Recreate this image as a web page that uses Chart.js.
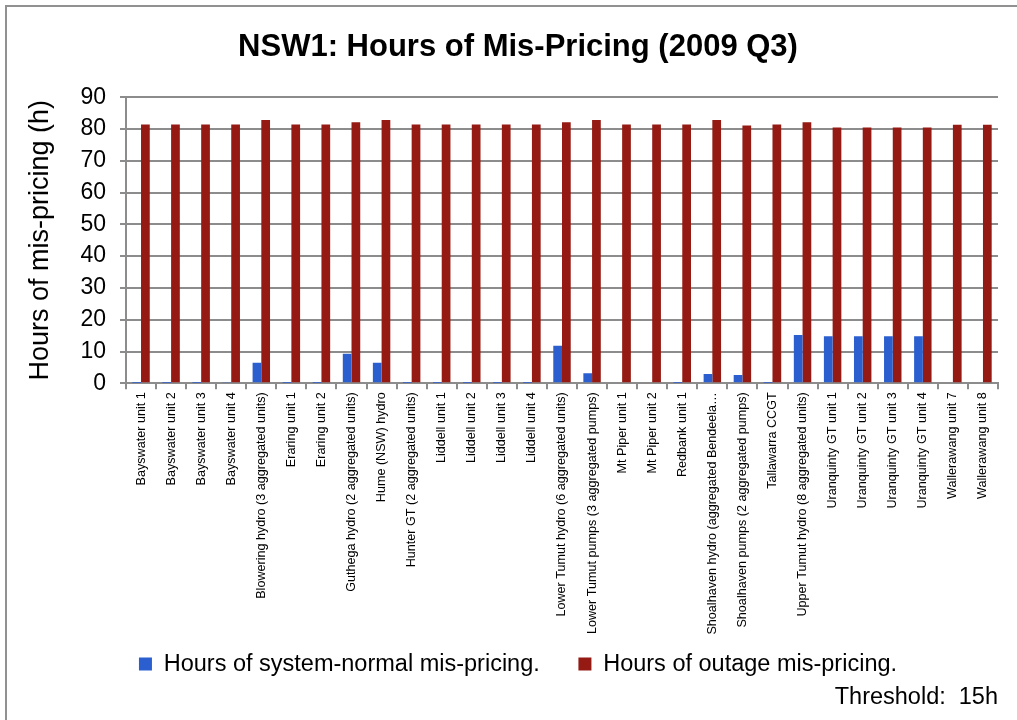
<!DOCTYPE html>
<html>
<head>
<meta charset="utf-8">
<style>
  body { margin: 0; background: #fff; overflow: hidden; }
  #frame { position: absolute; left: 5px; top: 5px; width: 1100px; height: 800px; border: 2px solid #919191; }
  #myChart { position: absolute; left: 0; top: 0; }
</style>
</head>
<body>
<div id="frame"></div>
<canvas id="myChart" width="1017" height="720"></canvas>
<script src="https://cdn.jsdelivr.net/npm/chart.js@4.4.0/dist/chart.umd.min.js"></script>
<script>
  const units = [
    "Bayswater unit 1", "Bayswater unit 2", "Bayswater unit 3", "Bayswater unit 4",
    "Blowering hydro (3 aggregated units)", "Eraring unit 1", "Eraring unit 2",
    "Guthega hydro (2 aggregated units)", "Hume (NSW) hydro", "Hunter GT (2 aggregated units)",
    "Liddell unit 1", "Liddell unit 2", "Liddell unit 3", "Liddell unit 4",
    "Lower Tumut hydro (6 aggregated units)", "Lower Tumut pumps (3 aggregated pumps)",
    "Mt Piper unit 1", "Mt Piper unit 2", "Redbank unit 1",
    "Shoalhaven hydro (aggregated Bendeela…", "Shoalhaven pumps (2 aggregated pumps)",
    "Tallawarra CCGT", "Upper Tumut hydro (8 aggregated units)",
    "Uranquinty GT unit 1", "Uranquinty GT unit 2", "Uranquinty GT unit 3", "Uranquinty GT unit 4",
    "Wallerawang unit 7", "Wallerawang unit 8"
  ];
  // hours of system-normal mis-pricing
  const systemNormal = [0.1, 0.1, 0.1, 0.4, 6.5, 0.1, 0.1, 9.3, 6.5, 0.1,
    0.1, 0.1, 0.1, 0.1, 11.8, 3.2, 0.3, 0.3, 0.1, 2.9,
    2.6, 0.1, 15.2, 14.8, 14.8, 14.8, 14.8, 0.3, 0.3];
  // hours of outage mis-pricing
  const outage = [81.4, 81.4, 81.4, 81.4, 82.8, 81.4, 81.4, 82.1, 82.8, 81.4,
    81.4, 81.4, 81.4, 81.4, 82.1, 82.8, 81.4, 81.4, 81.4, 82.8,
    81.1, 81.4, 82.1, 80.5, 80.5, 80.5, 80.5, 81.3, 81.3];
  const yTicks = [0, 10, 20, 30, 40, 50, 60, 70, 80, 90];

  const gridGrey = "#8c8c8c";
  const ctx = document.getElementById("myChart").getContext("2d");
  const myChart = new Chart(ctx, {
    type: "bar",
    data: {
      labels: units,
      datasets: [
        {
          label: "Hours of system-normal mis-pricing.",
          data: systemNormal,
          backgroundColor: "#2b5fcf",
          categoryPercentage: 0.58,
          barPercentage: 1.0,
        },
        {
          label: "Hours of outage mis-pricing.",
          data: outage,
          backgroundColor: "#941a13",
          categoryPercentage: 0.58,
          barPercentage: 1.0,
        },
      ],
    },
    options: {
      responsive: false,
      animation: false,
      layout: { padding: { left: 38, right: 19, top: 10, bottom: 8 } },
      plugins: {
        title: {
          display: true,
          text: "NSW1: Hours of Mis-Pricing (2009 Q3)",
          color: "#000",
          font: { family: "Liberation Sans", size: 31, weight: "bold" },
          padding: { top: 19, bottom: 31 },
        },
        subtitle: {
          display: true,
          position: "bottom",
          align: "end",
          text: "Threshold:  15h",
          color: "#000",
          font: { family: "Liberation Sans", size: 23.5 },
          padding: { top: -2, bottom: 0 },
        },
        legend: {
          position: "bottom",
          labels: {
            color: "#000",
            boxWidth: 13,
            boxHeight: 13,
            padding: 6,
            font: { family: "Liberation Sans", size: 23.5 },
            generateLabels: function (chart) {
              const items = Chart.defaults.plugins.legend.labels.generateLabels(chart);
              // wider gap between the two entries, like the original
              items[0].text += "\u00a0\u00a0\u00a0\u00a0\u00a0";
              return items;
            },
          },
        },
        tooltip: { enabled: false },
      },
      scales: {
        x: {
          grid: {
            drawOnChartArea: false,
            color: gridGrey,
            lineWidth: 2,
            tickLength: 6,
          },
          border: { color: gridGrey, width: 2 },
          ticks: {
            autoSkip: false,
            minRotation: 90,
            maxRotation: 90,
            padding: 3,
            color: "#000",
            font: { family: "Liberation Sans", size: 12.6 },
          },
          afterFit: function (scale) {
            scale.height = 263;
          },
        },
        y: {
          min: 0,
          max: 90,
          afterBuildTicks: function (scale) {
            scale.ticks = yTicks.map((v) => ({ value: v }));
          },
          grid: { color: gridGrey, lineWidth: 2, tickLength: 6 },
          border: { color: gridGrey, width: 2 },
          ticks: {
            padding: 14,
            color: "#000",
            font: { family: "Liberation Sans", size: 23 },
          },
          title: {
            display: true,
            text: "Hours of mis-pricing (h)",
            color: "#000",
            font: { family: "Liberation Sans", size: 27 },
            padding: { top: -14, bottom: 0 },
          },
          afterFit: function (scale) {
            scale.width = 88;
          },
        },
      },
    },
  });
</script>
</body>
</html>
